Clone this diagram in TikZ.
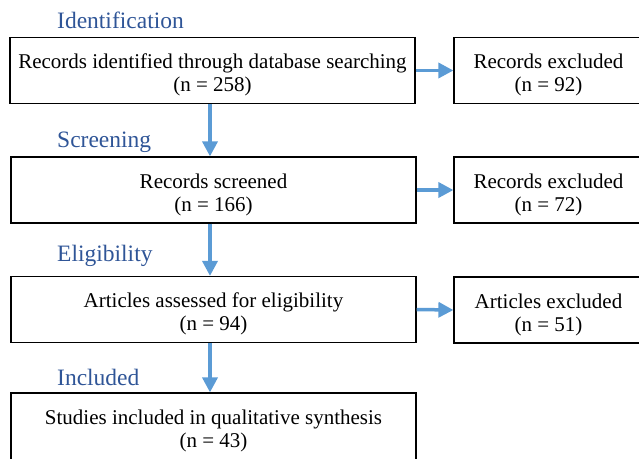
\documentclass[tikz,border=0pt]{standalone}
\usepackage{fontspec}
\setmainfont{Liberation Serif}
\usetikzlibrary{arrows.meta}

\definecolor{stagecol}{HTML}{2F5597}
\definecolor{flowcol}{HTML}{5B9BD5}

\tikzset{
  stepbox/.style={draw,line width=1.2pt,align=center,inner sep=0pt,
    font=\fontsize{21}{23}\selectfont,text height=54pt,text depth=12pt},
  mainbox/.style={stepbox,minimum width=405pt},
  sidebox/.style={stepbox,minimum width=189pt},
  stage/.style={anchor=base west,inner sep=0pt,text=stagecol,
    font=\fontsize{23.5}{26}\selectfont},
  flow/.style={draw=flowcol,line width=3.5pt,
    -{Triangle[width=15pt,length=15pt]}}
}

\begin{document}
\begin{tikzpicture}[x=1pt,y=-1pt]
        \useasboundingbox (0,0) rectangle (639,458);

        \begin{scope}[every node/.style={mainbox}]
          \node (ident)  at (212.5,70.5)  {Records identified through database searching\\(n = 258)};
          \node (screen) at (213.5,190)   {Records screened\\(n = 166)};
          \node (elig)   at (213.5,309.5) {Articles assessed for eligibility\\(n = 94)};
          \node[text depth=18pt] (incl) at (213.5,429) {Studies included in qualitative synthesis\\(n = 43)};
        \end{scope}

        \begin{scope}[every node/.style={sidebox}]
          \node (exrec)  at (548.5,70.5)  {Records excluded\\(n = 92)};
          \node (exscr)  at (548.5,190)   {Records excluded\\(n = 72)};
          \node (exart)  at (548.5,310)   {Articles excluded\\(n = 51)};
        \end{scope}

        \begin{scope}[every node/.style={stage}]
          \node (lident)  at (57,28)  {Identification};
          \node (lscreen) at (57,147) {Screening};
          \node (lelig)   at (57,261) {Eligibility};
          \node (lincl)   at (57,385) {Included};
        \end{scope}

        % down the stages
        \draw[flow] (ident.south -| 210,0)  -- (screen.north -| 210,0);
        \draw[flow] (screen.south -| 210,0) -- (elig.north -| 210,0);
        \draw[flow] (elig.south -| 210,0)   -- (incl.north -| 210,0);

        % out to the exclusions
        \draw[flow] (ident.east)  -- (exrec.west);
        \draw[flow] (screen.east) -- (exscr.west);
        \draw[flow] (elig.east)   -- (exart.west);

      \end{tikzpicture}
\end{document}
